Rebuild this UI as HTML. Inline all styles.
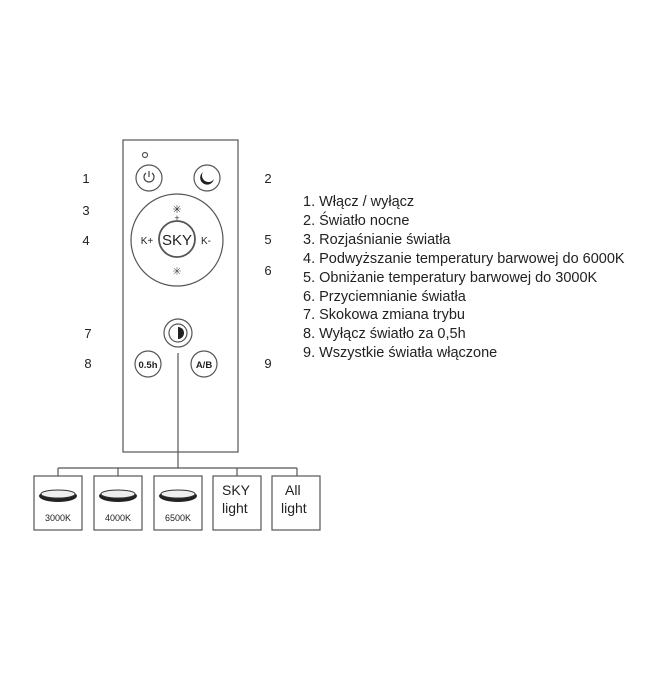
<!DOCTYPE html>
<html><head><style>
body{margin:0;background:#fff;width:650px;height:677px;overflow:hidden;font-family:"Liberation Sans",sans-serif}
.list{position:absolute;left:303px;top:193px;font-size:14.5px;line-height:18.9px;color:#222}
</style></head><body>
<svg width="650" height="677" style="position:absolute;left:0;top:0" font-family="Liberation Sans, sans-serif">
<g fill="none" stroke="#555" stroke-width="1.2">
<rect x="123" y="140" width="115" height="312"/>
<circle cx="145" cy="155" r="2.5"/>
<circle cx="149" cy="178" r="13"/>
<circle cx="207" cy="178" r="13"/>
<circle cx="177" cy="240" r="46"/>
<circle cx="177" cy="239" r="18" stroke-width="1.8"/>
<circle cx="178" cy="333" r="14"/>
<circle cx="178" cy="333" r="9"/>
<circle cx="148" cy="364" r="13"/>
<circle cx="204" cy="364" r="13"/>
<line x1="178" y1="353" x2="178" y2="468"/>
<line x1="58" y1="468" x2="297" y2="468"/>
<line x1="58" y1="468" x2="58" y2="476"/>
<line x1="118" y1="468" x2="118" y2="476"/>
<line x1="237" y1="468" x2="237" y2="476"/>
<line x1="297" y1="468" x2="297" y2="476"/>
<rect x="34" y="476" width="48" height="54"/>
<rect x="94" y="476" width="48" height="54"/>
<rect x="154" y="476" width="48" height="54"/>
<rect x="213" y="476" width="48" height="54"/>
<rect x="272" y="476" width="48" height="54"/>
</g>
<path d="M146,173 a5,5 0 1 0 6,0" fill="none" stroke="#444" stroke-width="1.2"/>
<line x1="149" y1="171" x2="149" y2="177" stroke="#444" stroke-width="1.2"/>
<path d="M203,172 a7,7 0 1 0 11,7 a6,6 0 0 1 -11,-7z" fill="#222"/>
<path d="M178,327 a6,6 0 0 1 0,12z" fill="#222"/>
<text x="177" y="213" font-size="11" text-anchor="middle" fill="#333">✳</text>
<text x="177" y="221" font-size="9" text-anchor="middle" fill="#333">+</text>
<text x="177" y="275" font-size="11" text-anchor="middle" fill="#555">✳</text>
<text x="177" y="245" font-size="15" text-anchor="middle" fill="#222">SKY</text>
<text x="147" y="244" font-size="10" text-anchor="middle" fill="#222">K+</text>
<text x="206" y="244" font-size="10" text-anchor="middle" fill="#222">K-</text>
<text x="148" y="368" font-size="9.5" font-weight="bold" text-anchor="middle" fill="#222">0.5h</text>
<text x="204" y="368" font-size="9.5" font-weight="bold" text-anchor="middle" fill="#222">A/B</text>
<g font-size="13" fill="#222" text-anchor="middle">
<text x="86" y="183">1</text><text x="268" y="183">2</text>
<text x="86" y="215">3</text><text x="86" y="245">4</text>
<text x="268" y="244">5</text><text x="268" y="275">6</text>
<text x="88" y="338">7</text><text x="88" y="368">8</text><text x="268" y="368">9</text>
</g>
<g>
<ellipse cx="58" cy="496" rx="19" ry="6" fill="#222"/><ellipse cx="58" cy="494" rx="17" ry="4" fill="#eee" stroke="#333"/>
<ellipse cx="118" cy="496" rx="19" ry="6" fill="#222"/><ellipse cx="118" cy="494" rx="17" ry="4" fill="#eee" stroke="#333"/>
<ellipse cx="178" cy="496" rx="19" ry="6" fill="#222"/><ellipse cx="178" cy="494" rx="17" ry="4" fill="#eee" stroke="#333"/>
</g>
<g font-size="9" fill="#222" text-anchor="middle">
<text x="58" y="521">3000K</text><text x="118" y="521">4000K</text><text x="178" y="521">6500K</text>
</g>
<g font-size="14" fill="#222">
<text x="222" y="495">SKY</text><text x="222" y="513">light</text>
<text x="285" y="495">All</text><text x="281" y="513">light</text>
</g>
</svg>
<div class="list">
1. Włącz / wyłącz<br>2. Światło nocne<br>3. Rozjaśnianie światła<br>4. Podwyższanie temperatury barwowej do 6000K<br>5. Obniżanie temperatury barwowej do 3000K<br>6. Przyciemnianie światła<br>7. Skokowa zmiana trybu<br>8. Wyłącz światło za 0,5h<br>9. Wszystkie światła włączone
</div>
</body></html>
